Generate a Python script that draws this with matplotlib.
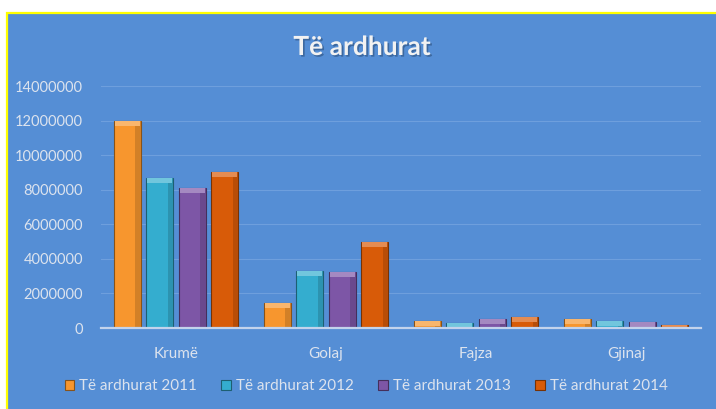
import matplotlib.pyplot as plt
import matplotlib.patheffects as pe
from matplotlib.patches import Rectangle, Patch
import matplotlib.colors as mcolors
import numpy as np

plt.rcParams['font.family'] = ['Lato', 'DejaVu Sans']

title = 'Të ardhurat'
villages = ['Krumë', 'Golaj', 'Fajza', 'Gjinaj']
series_names = ['Të ardhurat 2011', 'Të ardhurat 2012', 'Të ardhurat 2013', 'Të ardhurat 2014']
income_2011 = [12000000, 1450000, 400000, 500000]
income_2012 = [8700000, 3300000, 290000, 400000]
income_2013 = [8100000, 3250000, 500000, 330000]
income_2014 = [9000000, 5000000, 620000, 160000]
yticks = [0, 2000000, 4000000, 6000000, 8000000, 10000000, 12000000, 14000000]

series = [income_2011, income_2012, income_2013, income_2014]
colors = ['#F7962E', '#34ADCF', '#7D56A6', '#D85B08']
bg = '#558ED5'
text_col = '#DCE3EE'


def shade(c, f):
    r, g, b = mcolors.to_rgb(c)
    if f > 0:
        return (r + (1 - r) * f, g + (1 - g) * f, b + (1 - b) * f)
    return (r * (1 + f), g * (1 + f), b * (1 + f))


fig = plt.figure(figsize=(7.16, 4.09), dpi=100)
fig.patch.set_facecolor('white')
fig.patches.append(Rectangle((7 / 716, -0.01), 1.0, 1 - 13 / 409 + 0.01,
                             transform=fig.transFigure, facecolor=bg,
                             edgecolor='#FFFF00', linewidth=1.6, zorder=-10))

ax = fig.add_axes([101 / 716, (409 - 328) / 409, 600 / 716, 242 / 409])
ax.set_facecolor('none')
ax.set_zorder(2)

x = np.arange(len(villages))
pitch = 0.217
width = 0.18
cap = 14000000 * 5 / 242

for i, (vals, col) in enumerate(zip(series, colors)):
    pos = x + (i - 1.5) * pitch
    ax.bar(pos, vals, width=width, color=col, edgecolor=shade(col, -0.45),
           linewidth=0.8, zorder=3)
    # darker right side for a bevelled look
    ax.bar(pos + width * 0.4, vals, width=width * 0.2, color=shade(col, -0.15),
           linewidth=0, zorder=3)
    # light cap on top
    caps = [min(v, cap) for v in vals]
    ax.bar(pos, caps, width=width * 0.92, bottom=[v - c for v, c in zip(vals, caps)],
           color=shade(col, 0.3), linewidth=0, zorder=4)

ax.set_xlim(-0.5, 3.5)
ax.set_ylim(0, 14000000)
ax.set_yticks(yticks)
ax.set_yticklabels([str(t) for t in yticks])
ax.set_xticks(x)
ax.set_xticklabels(villages)
ax.tick_params(axis='y', length=0, pad=13, labelsize=10.5, labelcolor=text_col)
ax.tick_params(axis='x', length=0, pad=14, labelsize=11, labelcolor=text_col)
ax.grid(axis='y', color='#6E9FDD', linewidth=0.8, zorder=1)
for s in ['top', 'right', 'left']:
    ax.spines[s].set_visible(False)
ax.spines['bottom'].set_color('#C3D3EC')
ax.spines['bottom'].set_linewidth(1.6)
ax.spines['bottom'].set_zorder(5)

fig.text(362 / 716, 1 - 47 / 409, title, ha='center', va='center', fontsize=19,
         fontweight='bold', color='#F2F2F2',
         path_effects=[pe.withSimplePatchShadow(offset=(1.2, -1.2), shadow_rgbFace='#2C4F7C', alpha=0.6)])

handles = [Patch(facecolor=c, edgecolor=shade(c, -0.45), linewidth=0.8) for c in colors]
fig.legend(handles, series_names, loc='center', bbox_to_anchor=(366 / 716, 1 - 386 / 409),
           ncol=4, frameon=False, fontsize=11, labelcolor=text_col,
           handlelength=0.65, handleheight=0.65, handletextpad=0.3, columnspacing=1.6)

fig.savefig('out.png', dpi=100, facecolor=fig.get_facecolor())
